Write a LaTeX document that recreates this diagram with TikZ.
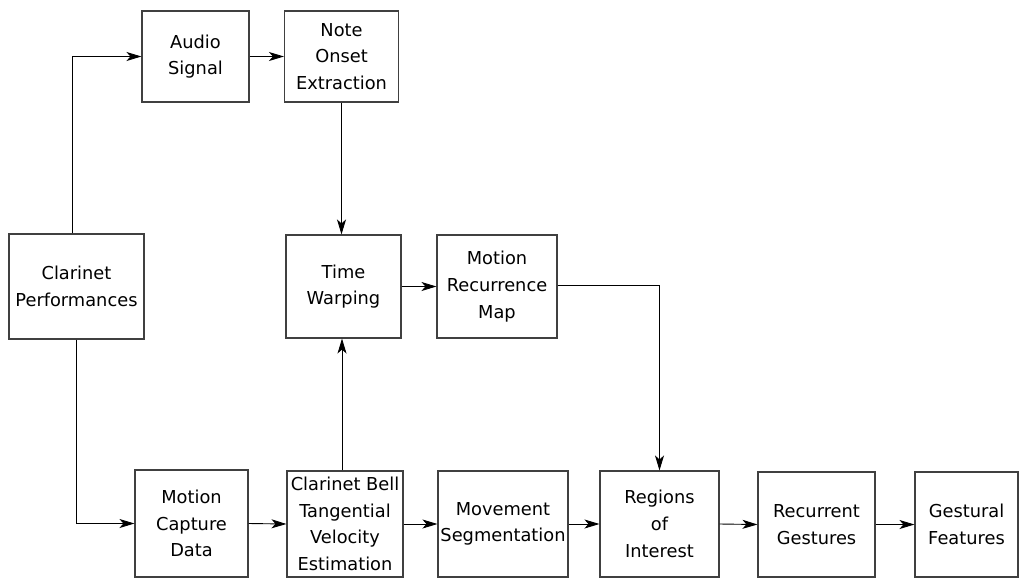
\documentclass[tikz,border=0pt]{standalone}
\usepackage{fontspec}
\setmainfont{DejaVu Sans}
\usetikzlibrary{arrows.meta}
\begin{document}
\begin{tikzpicture}[x=1pt,y=-1pt,
  blk/.style={draw=black!75,line width=1.1pt,align=center,inner sep=0pt,
    font=\fontsize{17.8}{26.7}\selectfont},
  arr/.style={line width=0.9pt,-{Stealth[length=15pt,width=9pt,inset=4pt]}},
  ln/.style={line width=0.9pt}]
\useasboundingbox (0,0) rectangle (1022,579);
\node[blk,minimum width=135pt,minimum height=105pt] (CP) at (76.5,286.5) {Clarinet\\Performances};
\node[blk,minimum width=107pt,minimum height=91pt] (AS) at (195.5,56.5) {Audio\\Signal};
\node[blk,minimum width=114pt,minimum height=91pt] (NOE) at (341.5,56.5) {Note\\Onset\\Extraction};
\node[blk,minimum width=115pt,minimum height=103pt] (TW) at (343.5,286.5) {Time\\Warping};
\node[blk,minimum width=120pt,minimum height=103pt] (MRM) at (497,286.5) {Motion\\Recurrence\\Map};
\node[blk,minimum width=113pt,minimum height=107pt] (MCD) at (191.5,523.5) {Motion\\Capture\\Data};
\node[blk,minimum width=116pt,minimum height=106pt] (CB) at (345,524) {Clarinet Bell\\Tangential\\Velocity\\Estimation};
\node[blk,minimum width=130pt,minimum height=106pt] (MS) at (503,524) {Movement\\Segmentation};
\node[blk,minimum width=119pt,minimum height=106pt] (RoI) at (659.5,524) {Regions\\of\\Interest};
\node[blk,minimum width=117pt,minimum height=105pt] (RG) at (816.5,524.5) {Recurrent\\Gestures};
\node[blk,minimum width=103pt,minimum height=105pt] (GF) at (966.5,524.5) {Gestural\\Features};
\draw[arr] ([xshift=-4.5pt]CP.north) |- (AS.west);
\draw[arr] (CP.south) |- (MCD.west);
\draw[arr] (AS.east) -- (NOE.west);
\draw[arr] (NOE.south) -- (NOE.south |- TW.north);
\draw[arr] ([xshift=-3pt]CB.north) -- ([xshift=-3pt]CB.north |- TW.south);
\draw[arr] (TW.east) -- (MRM.west);
\draw[arr] ([yshift=1.5pt]MRM.east) -| (RoI.north);
\draw[arr] (MCD.east) -- (CB.west);
\draw[arr] (CB.east) -- (MS.west);
\draw[arr] (MS.east) -- (RoI.west);
\draw[arr] (RoI.east) -- (RG.west);
\draw[arr] (RG.east) -- (GF.west);
\end{tikzpicture}
\end{document}
